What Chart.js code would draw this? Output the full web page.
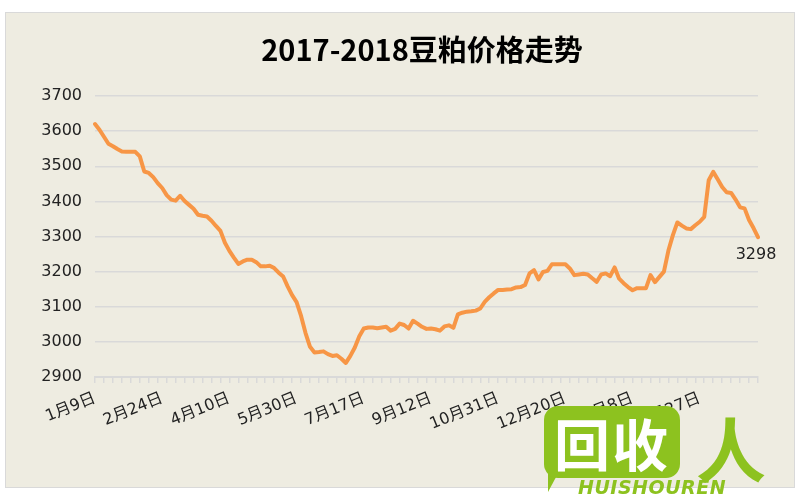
<!DOCTYPE html>
<html>
<head>
<meta charset="utf-8">
<script src="https://cdn.jsdelivr.net/npm/chart.js@4"></script>
<style>
  html, body { margin: 0; padding: 0; background: #fff; }
  #wrap { position: relative; width: 800px; height: 500px; overflow: hidden; }
  #wm-box {
    position: absolute; left: 544px; top: 406px; width: 136px; height: 72px;
    background: #8DC21F; border-radius: 14px;
    color: #fff; font: bold 56px "Noto Sans CJK SC"; line-height: 72px;
    text-align: center; letter-spacing: 2px;
  }
  #wm-tail {
    position: absolute; left: 548px; top: 466px; width: 0; height: 0;
    border-left: 14px solid #8DC21F; border-bottom: 26px solid transparent;
  }
  #wm-text {
    position: absolute; left: 578px; top: 476px;
    color: #8DC21F; font: italic bold 19px "DejaVu Sans"; letter-spacing: 0.5px;
  }
  #wm-ren {
    position: absolute; left: 696px; top: 396px;
    color: #8DC21F; font: bold 70px "Noto Sans CJK SC";
  }
</style>
</head>
<body>
<div id="wrap">
  <canvas id="priceChart" width="800" height="500"></canvas>
  <div id="wm-tail"></div>
  <div id="wm-box">回收</div>
  <div id="wm-text">HUISHOUREN</div>
  <div id="wm-ren">人</div>
</div>
<script>
const chartTitle = '2017-2018豆粕价格走势';

// one value every ~2 trading days
const prices = [
  3620, 3604, 3584, 3564, 3557, 3549, 3542, 3541, 3541, 3541,
  3528, 3485, 3481, 3469, 3452, 3438, 3418, 3405, 3402, 3416,
  3401, 3390, 3379, 3362, 3359, 3357, 3345, 3330, 3316, 3282,
  3259, 3240, 3222, 3229, 3234, 3234, 3227, 3215, 3215, 3217,
  3210, 3197, 3186, 3158, 3133, 3113, 3074, 3025, 2986, 2970,
  2971, 2973, 2965, 2960, 2962, 2952, 2940, 2960, 2984, 3016,
  3038, 3041, 3041, 3039, 3041, 3043, 3032, 3037, 3052, 3048,
  3038, 3060, 3052, 3043, 3037, 3038, 3036, 3032, 3044, 3047,
  3040, 3078, 3083, 3086, 3087, 3089, 3095, 3114, 3127, 3138,
  3148, 3148, 3149, 3150, 3155, 3156, 3162, 3195, 3204, 3178,
  3199, 3202, 3221, 3221, 3221, 3221, 3209, 3190, 3192, 3194,
  3192, 3181, 3171, 3192, 3195, 3187, 3212, 3180, 3167, 3156,
  3147, 3153, 3153, 3153, 3190, 3170, 3185, 3200, 3260, 3304,
  3340, 3331, 3323, 3321, 3332, 3342, 3356, 3460, 3484, 3463,
  3441, 3426, 3424, 3405, 3383, 3380, 3347, 3324, 3298
];

const tickLabels = ['1月9日', '2月24日', '4月10日', '5月30日', '7月17日',
  '9月12日', '10月31日', '12月20日', '2月8日', '3月27日'];
const labelEvery = 15;

const yMin = 2900;
const yMax = 3700;
const yStep = 100;

const labels = prices.map((_, i) => (i % labelEvery === 0 ? (tickLabels[i / labelEvery] || '') : ''));

// panel background + title (title sits a bit right of centre, like the original)
const panelBg = {
  id: 'panelBg',
  beforeDraw(chart) {
    const ctx = chart.ctx;
    ctx.save();
    ctx.fillStyle = '#ffffff';
    ctx.fillRect(0, 0, chart.width, chart.height);
    ctx.fillStyle = '#EEECE1';
    ctx.fillRect(5.5, 12.5, 789, 475);
    ctx.strokeStyle = '#D9D9D9';
    ctx.lineWidth = 1;
    ctx.strokeRect(5.5, 12.5, 789, 475);

    ctx.fillStyle = '#000';
    ctx.font = 'bold 29px "Noto Sans CJK SC"';
    ctx.textAlign = 'center';
    ctx.textBaseline = 'middle';
    ctx.fillText(chartTitle, 422, 50);
    ctx.restore();
  }
};

const lastLabel = {
  id: 'lastLabel',
  afterDatasetsDraw(chart) {
    const meta = chart.getDatasetMeta(0);
    const pt = meta.data[meta.data.length - 1];
    if (!pt) return;
    const ctx = chart.ctx;
    ctx.save();
    ctx.font = '16px "DejaVu Sans"';
    ctx.fillStyle = '#222';
    ctx.textAlign = 'center';
    ctx.textBaseline = 'middle';
    ctx.fillText(String(prices[prices.length - 1]), pt.x - 2, pt.y + 18);
    ctx.restore();
  }
};

new Chart(document.getElementById('priceChart'), {
  type: 'line',
  data: {
    labels: labels,
    datasets: [{
      data: prices,
      borderColor: '#F79646',
      borderWidth: 4,
      pointRadius: 0,
      tension: 0,
      borderJoinStyle: 'round',
      borderCapStyle: 'round'
    }]
  },
  options: {
    responsive: false,
    animation: false,
    devicePixelRatio: 1,
    layout: { padding: { left: 0, right: 42, top: 96, bottom: 0 } },
    plugins: {
      legend: { display: false },
      tooltip: { enabled: false },
      title: { display: false }
    },
    scales: {
      x: {
        offset: false,
        afterFit(scale) { scale.height = 123; },
        border: { display: true, color: '#D9D9D9', width: 2 },
        grid: {
          drawOnChartArea: false,
          drawTicks: true,
          tickLength: 6,
          lineWidth: 1.5,
          color: (c) => (c.index % 2 === 0 ? '#D9D9D9' : 'rgba(0,0,0,0)')
        },
        ticks: {
          autoSkip: false,
          minRotation: 22,
          maxRotation: 22,
          padding: 6,
          color: '#222',
          font: { family: '"DejaVu Sans", "Noto Sans CJK SC"', size: 16 },
          callback: (value, index) => labels[index]
        }
      },
      y: {
        min: yMin,
        max: yMax,
        afterFit(scale) { scale.width = 95; },
        border: { display: false },
        grid: { color: '#D9D9D9', lineWidth: 1.5, drawTicks: false },
        ticks: {
          stepSize: yStep,
          padding: 13,
          color: '#222',
          font: { family: '"DejaVu Sans"', size: 16 },
          callback: (value) => String(value)
        }
      }
    }
  },
  plugins: [panelBg, lastLabel]
});
</script>
</body>
</html>
